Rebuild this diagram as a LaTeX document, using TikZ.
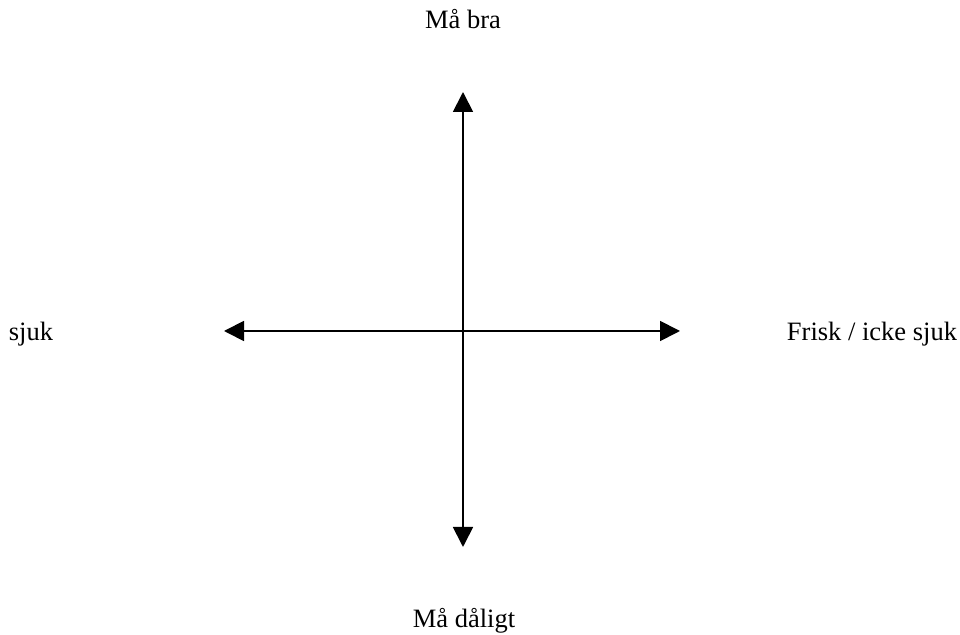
\documentclass[tikz,border=0pt]{standalone}
\usepackage{fontspec}
\setmainfont{Liberation Serif}
\usetikzlibrary{arrows.meta}

\begin{document}
\begin{tikzpicture}[
    x=0.5pt, y=-0.5pt,
    axis/.style={{Triangle[length=10pt, width=10pt]}-{Triangle[length=10pt, width=10pt]}, line width=0.9pt, black},
    pole/.style={font=\fontsize{13.25}{16}\selectfont, inner sep=0pt, anchor=base},
  ]
  \useasboundingbox (0,0) rectangle (960,635);

  \coordinate (top) at (463,92);
  \coordinate (bottom) at (463,547);
  \coordinate (left) at (224,331);
  \coordinate (right) at (680,331);

  \draw[axis] (bottom) -- (top);
  \draw[axis] (left) -- (right);

  \node[pole] (good) at (463,29) {Må bra};
  \node[pole] (bad) at (464,628) {Må dåligt};
  \node[pole] (sick) at (31,341) {sjuk};
  \node[pole] (healthy) at (872,341) {Frisk / icke sjuk};
\end{tikzpicture}
\end{document}
